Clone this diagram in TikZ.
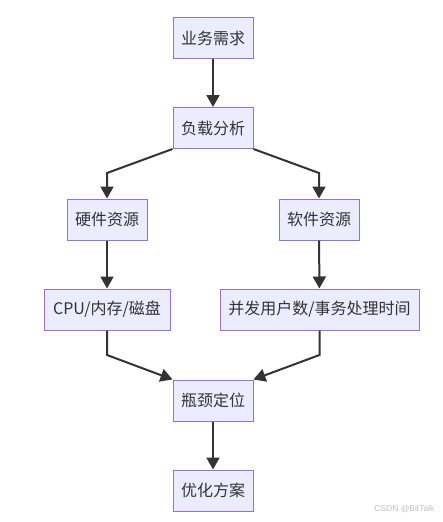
\documentclass[tikz,border=0pt]{standalone}
\usepackage{fontspec}
\newfontfamily\cjk{Noto Sans CJK SC}
\newfontfamily\wmfont{Liberation Sans}
\usetikzlibrary{arrows.meta}
\definecolor{boxfill}{HTML}{ECECFF}
\definecolor{boxdraw}{HTML}{9370DB}
\definecolor{linecol}{HTML}{333333}
\tikzset{
  flowbox/.style={draw=boxdraw, fill=boxfill, line width=1pt, minimum height=41pt, inner sep=0pt,
    font=\cjk\fontsize{16}{19}\selectfont, text=linecol},
  arr/.style={draw=linecol, line width=2pt, -{Triangle[length=12pt,width=13pt]}},
}
\begin{document}
\begin{tikzpicture}[x=1pt,y=-1pt]
\useasboundingbox (0,0) rectangle (442,522);
\node[flowbox, minimum width=80pt] (a) at (213,38) {业务需求};
\node[flowbox, minimum width=80pt] (b) at (213,128) {负载分析};
\node[flowbox, minimum width=80pt] (h) at (107,219.5) {硬件资源};
\node[flowbox, minimum width=80pt] (s) at (319,219.5) {软件资源};
\node[flowbox, minimum width=126pt] (c) at (107,309.5) {CPU/内存/磁盘};
\node[flowbox, minimum width=199pt] (u) at (319.5,309.5) {并发用户数/事务处理时间};
\node[flowbox, minimum width=80pt] (p) at (213,400.5) {瓶颈定位};
\node[flowbox, minimum width=80pt] (o) at (213,490.5) {优化方案};
\draw[arr] (a) -- (b);
\draw[arr] (b.south west) -- (h.north |- 0,173) -- (h.north);
\draw[arr] (b.south east) -- (s.north |- 0,173) -- (s.north);
\draw[arr] (h) -- (c);
\draw[arr] (s) -- (u);
\draw[arr] (c.south) -- (c.south |- 0,355) -- (p.north west);
\draw[arr] (u.south) -- (u.south |- 0,355) -- (p.north east);
\draw[arr] (p) -- (o);
\node[font=\wmfont\fontsize{8.5}{10}\selectfont, text=black!25, anchor=east] (wm) at (438,509) {CSDN @BitTalk};
\end{tikzpicture}
\end{document}
